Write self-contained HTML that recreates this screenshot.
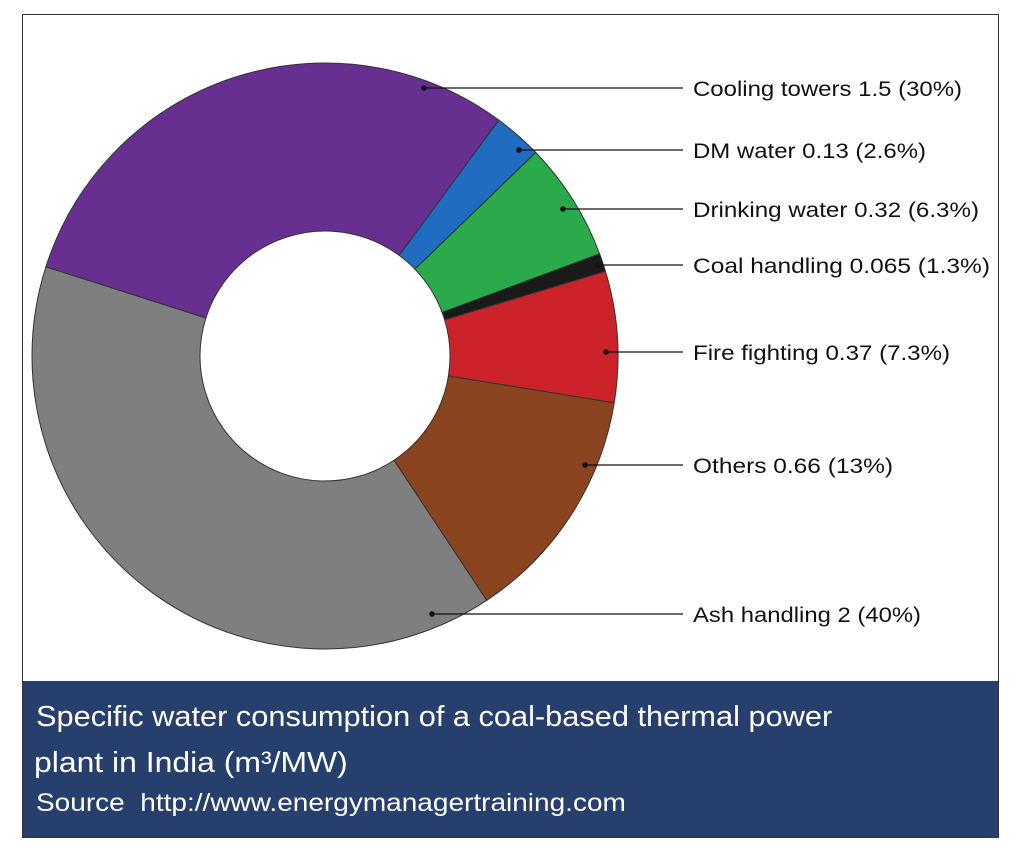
<!DOCTYPE html>
<html><head><meta charset="utf-8">
<style>
html,body{margin:0;padding:0;background:#fff;}
body{width:1024px;height:858px;position:relative;overflow:hidden;font-family:"Liberation Sans Narrow","Liberation Sans",sans-serif;}
#frame{position:absolute;left:22px;top:14px;width:977px;height:824px;border:1px solid #333;box-sizing:border-box;}
#foot{position:absolute;left:23px;top:681px;width:975px;height:156px;background:#273f6c;color:#fff;}
#foot .t{position:absolute;left:13px;font-size:29px;white-space:nowrap;transform-origin:0 0;}
svg{position:absolute;left:0;top:0;}
svg text{font-family:"Liberation Sans Narrow","Liberation Sans",sans-serif;font-size:21px;fill:#111;}
</style></head><body>
<div id="frame"></div>
<svg id="s" width="1024" height="858"></svg>
<div id="foot">
<div class="t" style="top:20px;transform:scaleX(1.06)">Specific water consumption of a coal-based thermal power</div>
<div class="t" style="top:66px;left:11px;transform:scaleX(1.1)">plant in India (m³/MW)</div>
<div class="t" style="top:108px;font-size:25px;transform:scaleX(1.12)">Source&nbsp;&nbsp;http://www.energymanagertraining.com</div>
</div>
<script>
var cx=325,cy=356,R=293,r=125;
var segs=[[-72.3,36.4,"#662f90"],[36.4,46,"#1f6cc0"],[46,69.6,"#2aaa4a"],[69.6,73.2,"#1a1a1a"],[73.2,99.2,"#cc2229"],[99.2,146.5,"#8b4420"],[146.5,287.7,"#7f7f7f"]];
function P(a,rad){a=a*Math.PI/180;return (cx+rad*Math.sin(a)).toFixed(2)+","+(cy-rad*Math.cos(a)).toFixed(2);}
var h="";
segs.forEach(function(s){var a0=s[0],a1=s[1],lg=(a1-a0)>180?1:0;
h+='<path d="M'+P(a0,R)+' A'+R+','+R+' 0 '+lg+' 1 '+P(a1,R)+' L'+P(a1,r)+' A'+r+','+r+' 0 '+lg+' 0 '+P(a0,r)+' Z" fill="'+s[2]+'" stroke="#333" stroke-width="1"/>';});
var labs=[[424,88,"Cooling towers 1.5 (30%)",269],[519,150,"DM water 0.13 (2.6%)",233],[563,209,"Drinking water 0.32 (6.3%)",286],[598,265,"Coal handling 0.065 (1.3%)",297],[606,352,"Fire fighting 0.37 (7.3%)",257],[585,465,"Others 0.66 (13%)",200],[432,614,"Ash handling 2 (40%)",228]];
labs.forEach(function(l){h+='<line x1="'+l[0]+'" y1="'+l[1]+'" x2="683" y2="'+l[1]+'" stroke="#111" stroke-width="1.3"/><circle cx="'+l[0]+'" cy="'+l[1]+'" r="2.8" fill="#111"/><text x="693" y="'+(l[1]+8)+'" textLength="'+l[3]+'" lengthAdjust="spacingAndGlyphs">'+l[2]+'</text>';});
document.getElementById("s").innerHTML=h;
</script>
</body></html>
